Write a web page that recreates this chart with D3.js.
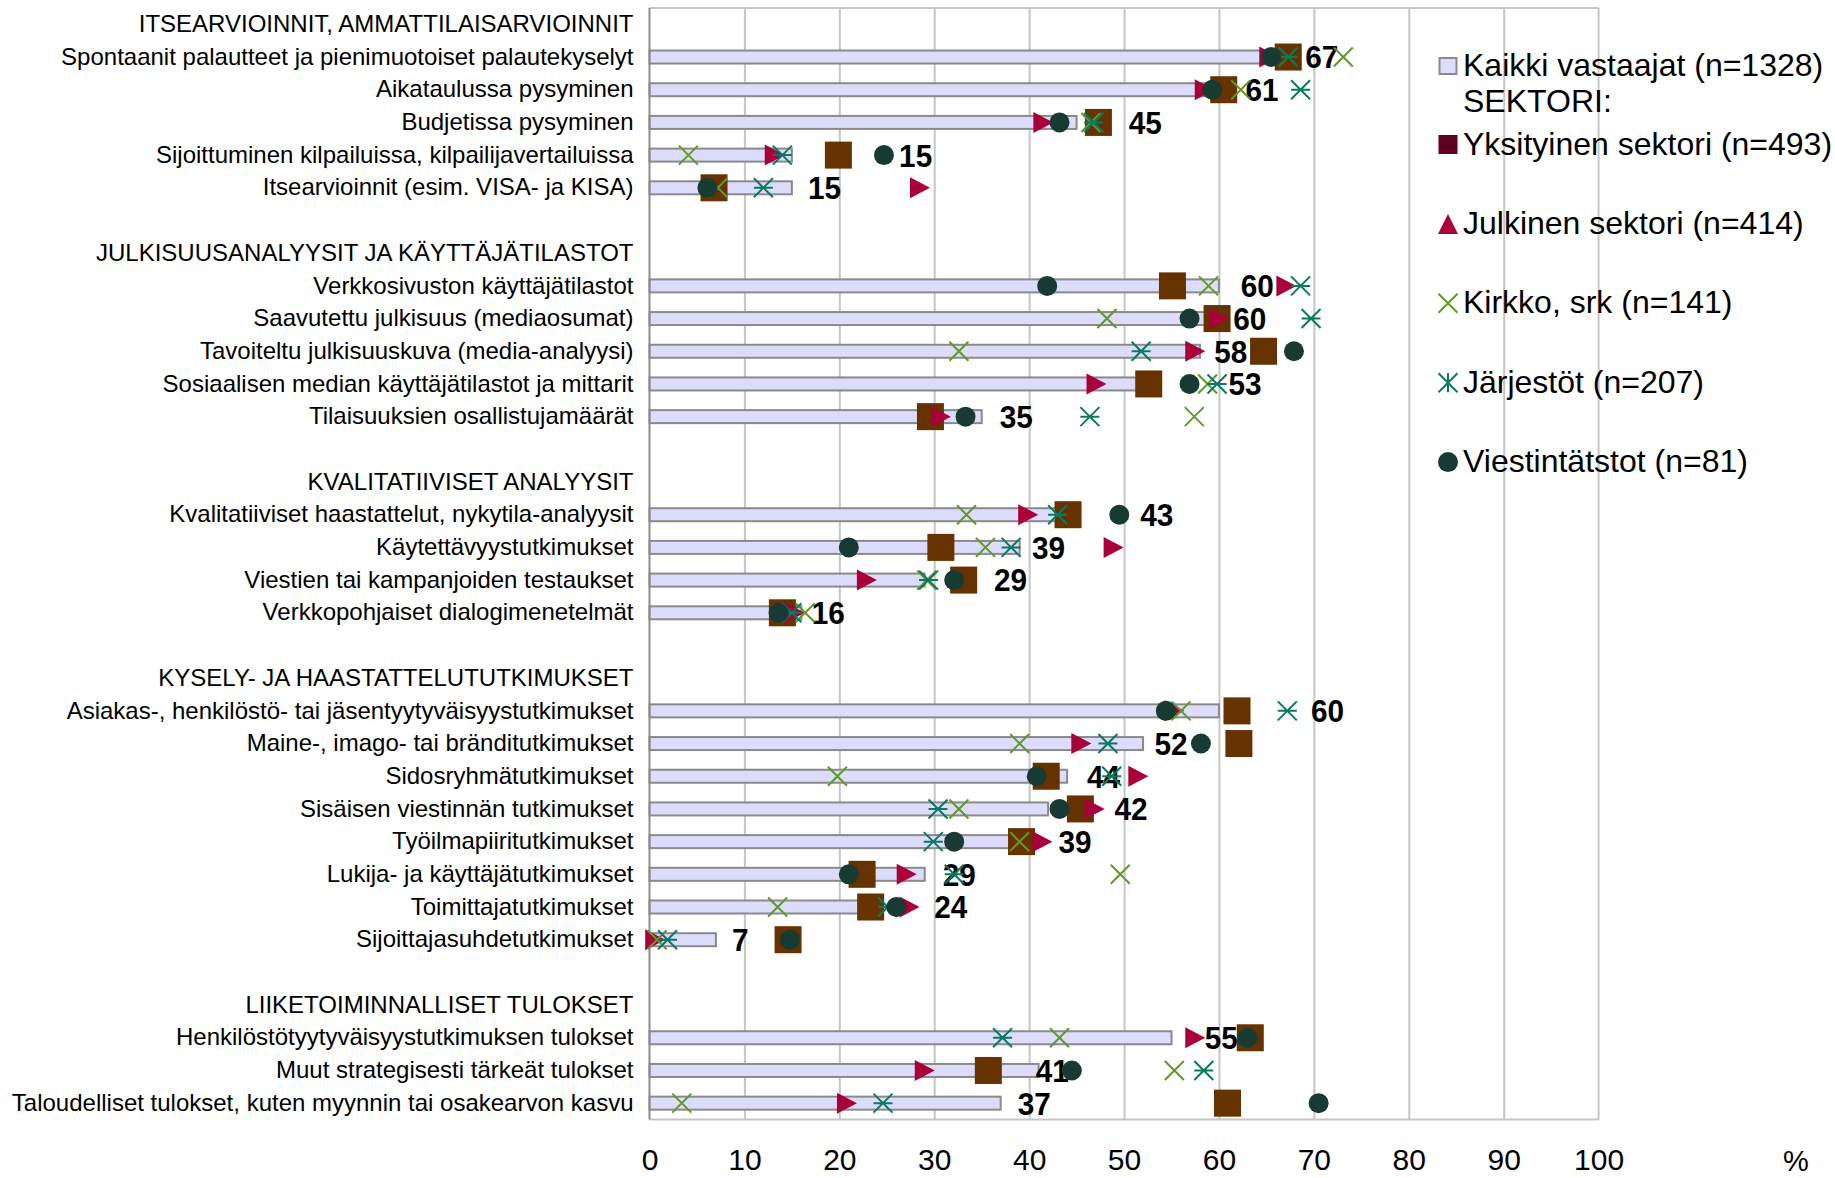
<!DOCTYPE html>
<html><head><meta charset="utf-8">
<script src="https://cdn.jsdelivr.net/npm/d3@7"></script>
<style>
body{margin:0;background:#fff}
svg{display:block;font-family:"Liberation Sans",Arial,sans-serif}
</style>
</head><body>
<svg id="c" width="1835" height="1178"></svg>
<script>
// ---- data ----
const categories = [
  "ITSEARVIOINNIT, AMMATTILAISARVIOINNIT",
  "Spontaanit palautteet ja pienimuotoiset palautekyselyt",
  "Aikataulussa pysyminen",
  "Budjetissa pysyminen",
  "Sijoittuminen kilpailuissa, kilpailijavertailuissa",
  "Itsearvioinnit (esim. VISA- ja KISA)",
  "",
  "JULKISUUSANALYYSIT JA KÄYTTÄJÄTILASTOT",
  "Verkkosivuston käyttäjätilastot",
  "Saavutettu julkisuus (mediaosumat)",
  "Tavoiteltu julkisuuskuva (media-analyysi)",
  "Sosiaalisen median käyttäjätilastot ja mittarit",
  "Tilaisuuksien osallistujamäärät",
  "",
  "KVALITATIIVISET ANALYYSIT",
  "Kvalitatiiviset haastattelut, nykytila-analyysit",
  "Käytettävyystutkimukset",
  "Viestien tai kampanjoiden testaukset",
  "Verkkopohjaiset dialogimenetelmät",
  "",
  "KYSELY- JA HAASTATTELUTUTKIMUKSET",
  "Asiakas-, henkilöstö- tai jäsentyytyväisyystutkimukset",
  "Maine-, imago- tai bränditutkimukset",
  "Sidosryhmätutkimukset",
  "Sisäisen viestinnän tutkimukset",
  "Työilmapiiritutkimukset",
  "Lukija- ja käyttäjätutkimukset",
  "Toimittajatutkimukset",
  "Sijoittajasuhdetutkimukset",
  "",
  "LIIKETOIMINNALLISET TULOKSET",
  "Henkilöstötyytyväisyystutkimuksen tulokset",
  "Muut strategisesti tärkeät tulokset",
  "Taloudelliset tulokset, kuten myynnin tai osakearvon kasvu"
];
// Kaikki vastaajat (bars)
const kaikki     = [null,67,61,45,15,15, null,null,60,60,58,53,35, null,null,43,39,29,16, null,null,60,52,44,42,39,29,24,7, null,null,55,41,37];
// Sectors (markers)
const yksityinen = [null,67.3,60.5,47.3,19.9,6.8, null,null,55.1,59.8,64.7,52.6,29.6, null,null,44.1,30.7,33.1,14.0, null,null,61.9,62.1,41.8,45.4,39.2,22.4,23.3,14.6, null,null,63.3,35.7,60.9];
const julkinen   = [null,65.3,58.5,41.5,13.2,28.5, null,null,67.1,60.0,57.5,47.1,30.7, null,null,39.9,48.9,22.9,15.3, null,null,55.3,45.5,51.5,46.9,41.4,27.1,27.4,0.6, null,null,57.5,29.0,20.8];
const kirkko     = [null,73.1,62.3,46.5,4.1,7.2, null,null,58.9,48.2,32.6,58.8,57.4, null,null,33.4,35.4,29.2,16.4, null,null,56.0,39.0,19.8,32.6,39.0,49.6,13.5,0.8, null,null,43.2,55.3,3.4];
const jarjestot  = [null,67.3,68.6,46.8,14.0,12.0, null,null,68.6,69.7,51.8,59.8,46.4, null,null,43.0,38.1,29.4,15.0, null,null,67.2,48.3,48.7,30.4,29.9,32.1,25.1,1.9, null,null,37.2,58.4,24.6];
const viestinta  = [null,65.5,59.3,43.2,24.7,6.1, null,null,41.9,56.9,67.9,56.9,33.3, null,null,49.5,21.0,32.1,13.6, null,null,54.4,58.1,40.8,43.2,32.1,21.0,26.0,14.8, null,null,63.0,44.5,70.5];
// where each value label of the bars sits on the value axis (%)
const labelAt    = [null,69.1,62.8,50.5,26.3,16.7, null,null,62.3,61.5,59.5,61.0,36.9, null,null,51.7,40.3,36.3,17.1, null,null,69.7,53.2,46.1,49.0,43.1,30.9,30.0,8.7, null,null,58.5,40.7,38.8];
const xTicks = [0,10,20,30,40,50,60,70,80,90,100];
const legendNames = [
  "Kaikki vastaajat (n=1328)",
  "Yksityinen sektori (n=493)",
  "Julkinen sektori (n=414)",
  "Kirkko, srk (n=141)",
  "Järjestöt (n=207)",
  "Viestintätstot (n=81)"
];
const legendSub = "SEKTORI:";

// ---- styles ----
const C = {
  barFill:"#DEDCFC", barStroke:"#8A8A8A",
  square:"#663300", legendSquare:"#5E0022",
  tri:"#AA0039", x:"#5F9A24", ast:"#0A7A5E", circ:"#173B33",
  grid:"#C6C6C6", axis:"#8C8C8C"
};

const svg = d3.select("#c");
const x = d3.scaleLinear().domain([0,100]).range([649.5,1598.6]);
const y = d3.scaleBand().domain(d3.range(categories.length)).range([8,1119.5]);
const cy = i => y(i) + y.bandwidth()/2;
const yTop = y.range()[0], yBot = y.range()[1];

// gridlines
svg.append("g")
  .attr("transform",`translate(0,${yBot})`)
  .call(d3.axisBottom(x).tickValues(d3.range(10,100,10)).tickSize(-(yBot-yTop)).tickFormat(""))
  .call(g=>g.select(".domain").remove())
  .selectAll("line").attr("stroke",C.grid).attr("stroke-width",2);

// frame
svg.append("line").attr("x1",x(0)).attr("x2",x(100)).attr("y1",yTop).attr("y2",yTop).attr("stroke",C.grid).attr("stroke-width",2);
svg.append("line").attr("x1",x(100)).attr("x2",x(100)).attr("y1",yTop).attr("y2",yBot).attr("stroke",C.grid).attr("stroke-width",2);
svg.append("line").attr("x1",x(0)).attr("x2",x(100)).attr("y1",yBot).attr("y2",yBot).attr("stroke",C.grid).attr("stroke-width",2);

// x tick labels
svg.append("g")
  .attr("transform",`translate(0,${yBot})`)
  .call(d3.axisBottom(x).tickValues(xTicks).tickSize(0).tickPadding(29.3).tickFormat(d3.format("d")))
  .call(g=>g.select(".domain").remove())
  .selectAll("text").attr("font-size",30).attr("fill","#000").attr("font-family",'"Liberation Sans",Arial,sans-serif');

svg.append("text").attr("x",1796).attr("y",1171).attr("text-anchor","middle")
  .attr("font-size",29).attr("fill","#000").text("%");

// category axis
svg.append("g")
  .attr("transform",`translate(${x(0)},0)`)
  .call(d3.axisLeft(y).tickSize(0).tickPadding(16).tickFormat(i=>categories[i]))
  .call(g=>g.select(".domain").remove())
  .selectAll("text").attr("font-size",24).attr("fill","#000").attr("font-family",'"Liberation Sans",Arial,sans-serif');

// bars
const idx = d3.range(categories.length).filter(i=>kaikki[i]!=null);
svg.append("g").selectAll("rect").data(idx).join("rect")
  .attr("x",x(0)).attr("width",i=>x(kaikki[i])-x(0))
  .attr("y",i=>cy(i)-6.5).attr("height",13)
  .attr("fill",C.barFill).attr("stroke",C.barStroke).attr("stroke-width",2);

// left axis line
svg.append("line").attr("x1",x(0)).attr("x2",x(0)).attr("y1",yTop).attr("y2",yBot).attr("stroke",C.axis).attr("stroke-width",2);

// value labels
svg.append("g").selectAll("text").data(idx).join("text")
  .attr("transform",i=>`translate(${x(labelAt[i])},${cy(i)+11.4}) scale(0.93,1)`)
  .attr("font-size",32).attr("font-weight","bold").attr("fill","#000")
  .text(i=>kaikki[i]);

// marker shapes
function drawSquare(g,cx,cyv,s,fill){g.append("rect").attr("x",cx-s/2).attr("y",cyv-s/2).attr("width",s).attr("height",s).attr("fill",fill);}
function drawTriRight(g,cx,cyv,w,h,fill){g.append("path").attr("d",`M${cx-w/2},${cyv-h/2}L${cx+w/2},${cyv}L${cx-w/2},${cyv+h/2}Z`).attr("fill",fill);}
function drawTriUp(g,cx,cyv,w,h,fill){g.append("path").attr("d",`M${cx-w/2},${cyv+h/2}L${cx},${cyv-h/2}L${cx+w/2},${cyv+h/2}Z`).attr("fill",fill);}
function drawX(g,cx,cyv,s,col){const r=s/2;g.append("path").attr("d",`M${cx-r},${cyv-r}L${cx+r},${cyv+r}M${cx-r},${cyv+r}L${cx+r},${cyv-r}`).attr("stroke",col).attr("stroke-width",2).attr("fill","none");}
function drawAst(g,cx,cyv,s,col,vertical){const r=s/2;let d=`M${cx-r},${cyv-r}L${cx+r},${cyv+r}M${cx-r},${cyv+r}L${cx+r},${cyv-r}`;d+= vertical?`M${cx},${cyv-r}L${cx},${cyv+r}`:`M${cx-r},${cyv}L${cx+r},${cyv}`;g.append("path").attr("d",d).attr("stroke",col).attr("stroke-width",2).attr("fill","none");}
function drawCircle(g,cx,cyv,r,fill){g.append("circle").attr("cx",cx).attr("cy",cyv).attr("r",r).attr("fill",fill);}

const mg = svg.append("g");
const has = a => d3.range(categories.length).filter(i=>a[i]!=null);
has(yksityinen).forEach(i=>drawSquare(mg,x(yksityinen[i]),cy(i),27,C.square));
has(julkinen).forEach(i=>drawTriRight(mg,x(julkinen[i]),cy(i),20,21,C.tri));
has(kirkko).forEach(i=>drawX(mg,x(kirkko[i]),cy(i),19,C.x));
has(jarjestot).forEach(i=>drawAst(mg,x(jarjestot[i]),cy(i),19,C.ast,false));
has(viestinta).forEach(i=>drawCircle(mg,x(viestinta[i]),cy(i),10,C.circ));

// legend
const lg = svg.append("g");
const lx = 1448, tx = 1463;
const fs = 32;
lg.append("rect").attr("x",lx-8.5).attr("y",66-8).attr("width",17).attr("height",16)
  .attr("fill",C.barFill).attr("stroke",C.barStroke).attr("stroke-width",2);
lg.append("text").attr("x",tx).attr("y",66+10).attr("font-size",fs).attr("fill","#000").text(legendNames[0]);
lg.append("text").attr("x",tx).attr("y",66+10+36).attr("font-size",fs).attr("fill","#000").text(legendSub);
const ly = k => 144.5 + (k-1)*79.4;
drawSquare(lg,lx,ly(1),19,C.legendSquare);
drawTriUp(lg,lx,ly(2),20,20,C.tri);
drawX(lg,lx,ly(3),19,C.x);
drawAst(lg,lx,ly(4),19,C.ast,true);
drawCircle(lg,lx,ly(5),10,C.circ);
for(let k=1;k<legendNames.length;k++){
  lg.append("text").attr("x",tx).attr("y",ly(k)+10).attr("font-size",fs).attr("fill","#000").text(legendNames[k]);
}
</script>
</body></html>
